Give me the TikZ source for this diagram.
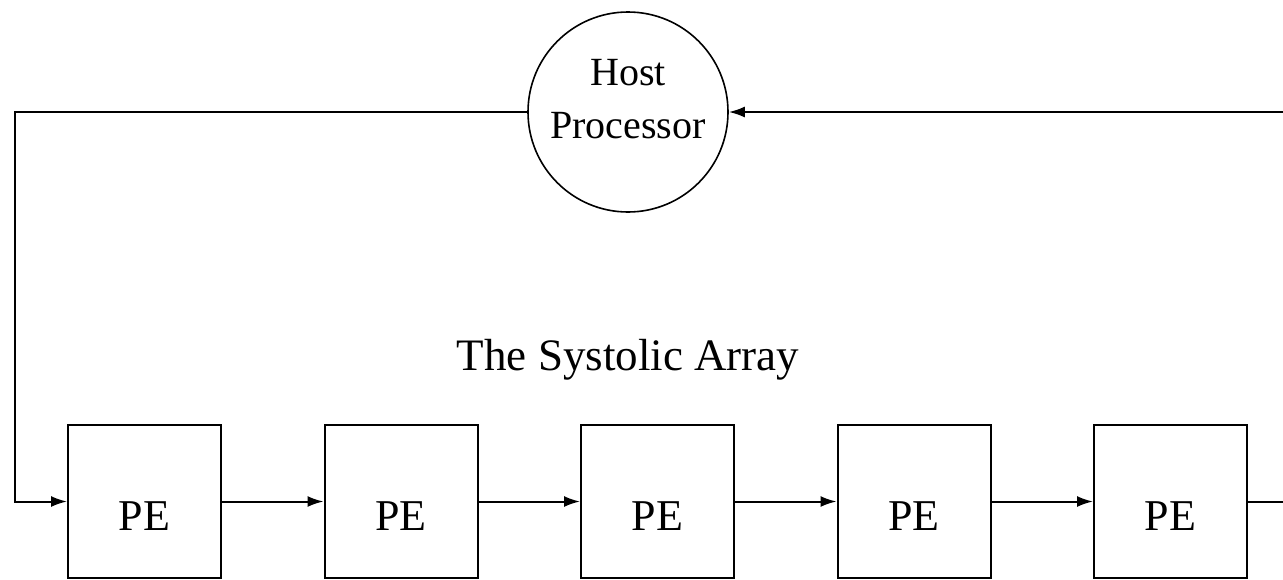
\documentclass[tikz,border=0pt]{standalone}
\usepackage{fontspec}
\setmainfont{Liberation Serif}
\usetikzlibrary{arrows.meta}
\begin{document}
\begin{tikzpicture}[x=1pt,y=-1pt,
  line width=2pt,
  arr/.style={-{Latex[length=16pt,width=11pt]}},
  pebox/.style={draw,rectangle,minimum width=153pt,minimum height=153pt,inner sep=0pt},
  host/.style={draw,circle,minimum size=200pt,inner sep=0pt,line width=1.6pt},
  lbl/.style={anchor=base,inner sep=0pt},
  hostfont/.style={font=\fontsize{40}{48}\selectfont},
  pefont/.style={font=\fontsize{44}{52}\selectfont},
  titlefont/.style={font=\fontsize{45}{52}\selectfont}]
\useasboundingbox (0,0) rectangle (1283,579);
\node[host] (hp) at (628,112) {};
\node[lbl,hostfont] (hosttxt) at (628,85) {Host};
\node[lbl,hostfont] (proctxt) at (628,138) {Processor};
\node[lbl,titlefont] (title) at (628,370) {The Systolic Array};
\foreach \i/\x in {1/144.5,2/401,3/657.5,4/914,5/1170.5}{
  \node[pebox] (pe\i) at (\x,501.5) {};
  \node[lbl,pefont] (pet\i) at (\x,530) {PE};
}
\coordinate (lc1) at (15,112);
\coordinate (lc2) at (15,501.5);
\coordinate (rin) at (1290,112);
\coordinate (rout) at (1290,501.5);
\draw[arr] (hp.west) -- (lc1) -- (lc2) -- (pe1.west);
\draw[arr] (pe1.east) -- (pe2.west);
\draw[arr] (pe2.east) -- (pe3.west);
\draw[arr] (pe3.east) -- (pe4.west);
\draw[arr] (pe4.east) -- (pe5.west);
\draw (pe5.east) -- (rout);
\draw[arr] (rin) -- (hp.east);
\end{tikzpicture}
\end{document}
